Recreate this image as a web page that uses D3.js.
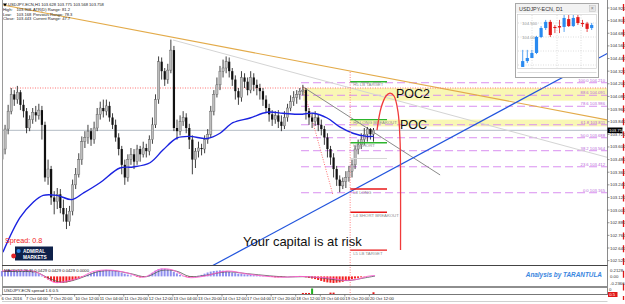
<!DOCTYPE html>
<html><head><meta charset="utf-8">
<script src="https://cdn.jsdelivr.net/npm/d3@7"></script>
<style>body{margin:0;background:#fff;overflow:hidden}svg{display:block;font-family:"Liberation Sans",Arial,sans-serif}</style>
</head><body><svg id="c" width="625" height="304"></svg>
<script>
// ---------- data ----------
const firstOpen = 103.48;
const closes = [103.58,103.77,103.94,104.10,104.05,104.12,104.00,103.94,103.78,103.86,
103.93,103.90,103.95,103.81,103.31,103.39,103.12,103.08,103.15,103.02,
102.96,102.89,102.99,103.24,103.34,103.48,103.65,103.69,103.75,103.67,
103.78,103.91,103.97,103.94,103.99,103.88,103.81,103.69,103.58,103.43,
103.31,103.48,103.53,103.46,103.58,103.53,103.59,103.56,103.67,103.81,
104.05,104.41,104.32,104.24,104.33,104.52,103.78,103.75,103.84,103.88,
103.78,103.67,103.48,103.56,103.59,103.58,103.67,103.72,103.94,104.10,
104.19,104.32,104.35,104.41,104.32,104.24,104.13,104.07,104.26,104.22,
104.14,104.26,104.19,104.16,104.13,104.05,103.97,103.91,103.86,103.90,
103.84,103.80,103.88,103.97,104.03,104.07,104.10,104.13,104.14,103.94,
103.88,103.84,103.88,103.81,103.77,103.69,103.58,103.50,103.39,103.29,
103.23,103.27,103.31,103.37,103.43,103.58,103.62,103.67,103.72,103.77,
103.72,103.76];
const highs = [103.62,103.81,104.00,104.16,104.14,104.18,104.14,104.05,103.97,103.90,
103.97,103.99,104.01,103.99,103.84,103.48,103.42,103.18,103.21,103.20,
103.10,103.02,103.04,103.29,103.40,103.54,103.70,103.75,103.81,103.78,
103.84,103.97,104.03,104.05,104.05,104.03,103.92,103.86,103.73,103.61,
103.48,103.53,103.59,103.58,103.62,103.61,103.65,103.63,103.71,103.88,
104.10,104.46,104.45,104.35,104.39,104.62,104.56,103.86,103.90,103.94,
103.92,103.82,103.71,103.59,103.65,103.63,103.71,103.77,103.99,104.14,
104.26,104.37,104.43,104.46,104.45,104.35,104.28,104.16,104.32,104.30,
104.26,104.32,104.30,104.24,104.20,104.16,104.09,104.01,103.95,103.94,
103.95,103.90,103.94,104.01,104.09,104.13,104.14,104.16,104.19,104.16,
103.97,103.92,103.94,103.91,103.86,103.80,103.73,103.61,103.54,103.42,
103.33,103.31,103.37,103.42,103.48,103.61,103.67,103.73,103.78,103.79,
103.78,103.78];
const lows = [103.43,103.53,103.72,103.91,103.99,104.01,103.95,103.88,103.73,103.75,
103.82,103.84,103.86,103.67,103.27,103.24,103.05,102.96,103.01,102.97,
102.89,102.82,102.85,102.95,103.20,103.31,103.43,103.59,103.63,103.61,
103.63,103.75,103.86,103.88,103.90,103.84,103.77,103.65,103.52,103.34,
103.24,103.27,103.43,103.39,103.43,103.46,103.50,103.50,103.52,103.63,
103.78,104.01,104.24,104.18,104.20,104.30,103.75,103.67,103.71,103.80,
103.73,103.58,103.34,103.40,103.50,103.52,103.54,103.63,103.69,103.90,
104.07,104.14,104.26,104.30,104.26,104.18,104.05,104.00,104.03,104.16,
104.09,104.11,104.13,104.09,104.05,103.99,103.92,103.84,103.80,103.82,
103.78,103.75,103.77,103.84,103.94,103.99,104.01,104.05,104.09,103.86,
103.81,103.78,103.80,103.75,103.71,103.62,103.50,103.43,103.31,103.23,
103.17,103.20,103.21,103.27,103.31,103.39,103.53,103.58,103.62,103.65,
103.67,103.65];
const maIndex = [0.3,5.9,10,13.4,17.9,22.8,26.4,31.9,38.4,42.7,48.2,52.4,57,61.2,66.8,71,75.2,80.8,86.3,91.5,97,101.3,105.9,110,114.3,118.9,121];
const maValues = [102.60,102.93,103.07,103.14,103.14,103.10,103.16,103.26,103.40,103.41,103.45,103.57,103.685,103.70,103.68,103.73,103.83,103.875,103.93,103.92,103.91,103.92,103.875,103.79,103.73,103.70,103.70];
const priceTicks = [104.92,104.80,104.68,104.56,104.44,104.32,104.20,104.08,103.96,103.84,103.72,103.60,103.48,103.36,103.24,103.12,103.00,102.88,102.76,102.64,102.52];
const timeLabels = ["6 Oct 2016","7 Oct 04:00","7 Oct 20:00","10 Oct 12:00","11 Oct 04:00","11 Oct 20:00","12 Oct 12:00","13 Oct 04:00","13 Oct 20:00","14 Oct 12:00","17 Oct 04:00","17 Oct 20:00","18 Oct 12:00","19 Oct 04:00","19 Oct 20:00","20 Oct 12:00"];
const currentPrice = 103.758;
const fibLevels = [0,23.6,38.2,50,61.8,78.6,88.6,100];
const fibLow = 103.165, fibHigh = 104.21, fibStart = 97.4;
const zoneNames = ["POC2","POC"];
const zoneFrom = [98,113.4];
const zoneHigh = [104.16,103.86];
const zoneLow = [104.04,103.795];
const pivotNames = ["H5 LB TARGET","H4 LONG BREAKOUT","H3 SHORT","","L3 LONG","L4 SHORT BREAKOUT","L5 LB TARGET"];
const pivotValues = [104.22,103.86,103.64,103.49,103.20,102.98,102.62];
const pivotColors = ["#2cb52c","#2cb52c","#2cb52c","#d8d8d8","#e81818","#e81818","#e81818"];
const pivotFrom = 113.4, pivotTo = 125.4;
const arrowIndex = [122.15,123.45,125.08,126.38,127.69,128.99,129.64,129.8,129.8];
const arrowPrice = [103.76,103.97,104.084,104.112,104.084,103.932,103.666,103.381,102.621];
// trend lines: [i1,p1,i2,p2]
const orangeLine = [0.33,104.948,110,104.34];
const lightGreyLine = [55.7,104.616,110,104.188];
const darkGreyLine = [98.05,104.17,142.7,103.334];
const blueLine = [72,102.526,198,104.502];
const redDiag = [98.05,104.17,107.8,103.144];
const redHLine = 104.16, redHFrom = 2.6;
const redVLine = 113.4;
// MACD panel
const macdHist = [18,20,22,20,19,18,17,18,17,16,
15,12,8,3,-4,-10,-15,-19,-21,-22,
-21,-20,-17,-14,-10,-6,-2,2,6,10,
14,17,19,21,22,21,20,18,15,12,
9,6,3,0,-2,-3,-2,0,5,12,
19,24,26,25,23,20,15,10,5,1,
-2,-3,-2,0,2,5,9,13,16,18,
19,20,19,17,15,13,11,9,8,7,
6,5,4,3,2,1,0,-1,-2,-3,
-3,-2,-1,0,1,1,0,-1,-2,-3,
-5,-7,-9,-12,-15,-18,-20,-21,-22,-21,
-20,-18,-15,-12,-9,-7,-5,-3,-1,0,
1,2];
const signalIndex = [0,10,13.4,17,21,25.4,29.6,35,40.7,46,51.5,55.7,60.3,65.5,73.3,79.8,86.3,91.5,97,102.6,108,111,115.6,118.9,121.5];
const signalValues = [0.18,0.18,0.03,-0.20,-0.16,-0.04,0.16,0.21,0.12,-0.03,0.24,0.21,-0.03,0,0.18,0.08,0,-0.03,0,-0.03,-0.07,-0.13,-0.10,0,0.03];
const greyIndex = [0,11,15,19,23,27,31,36,42,47,52,57,61,66,73,80,87,93,98,104,109,113,117,121.5];
const greyValues = [0.16,0.14,-0.05,-0.19,-0.14,0,0.15,0.19,0.09,-0.01,0.20,0.17,0,0.03,0.15,0.09,0.02,-0.02,-0.01,-0.05,-0.12,-0.14,-0.07,0.01];
const macdTicks = [0.2128,0,-0.2366];
const spreadIndex = [98,99,100,101,107,108,121];
const spreadValues = [0.3,0.3,0.3,1.6,0.4,0.4,0.5];
const spreadColors = ["#e81818","#e81818","#e81818","#20b020","#e81818","#e81818","#e81818"];
// D1 inset
const d1Open  = [102.93,103.14,103.25,103.43,104.00,104.32,104.54,104.36,104.39,104.36,104.64,104.39,104.71,104.50,104.48,104.32];
const d1High  = [103.54,103.54,103.54,104.04,104.39,104.61,104.61,104.43,104.61,104.86,104.86,104.79,104.79,104.61,104.54,104.50];
const d1Low   = [102.93,103.07,103.25,103.39,103.96,104.25,104.00,104.14,104.14,104.18,104.36,104.36,104.43,104.36,104.18,104.25];
const d1Close = [103.14,103.25,103.43,104.00,104.32,104.54,104.07,104.32,104.34,104.68,104.39,104.68,104.50,104.46,104.29,104.43];
const d1Ticks = [104.5,104.0];

// ---------- layout ----------
const svg = d3.select('#c');
const plotL = 3, plotR = 607, plotT = 0, plotB = 265;
const x = d3.scaleLinear().domain([0,121]).range([2,373.5]);
const y = d3.scaleLinear().domain([104.92,102.64]).range([8,248]);
const defs = svg.append('defs');
defs.append('clipPath').attr('id','main').append('rect').attr('x',plotL).attr('y',plotT).attr('width',plotR-plotL).attr('height',plotB-plotT);
svg.append('rect').attr('width',625).attr('height',304).attr('fill','#fff');
const g = svg.append('g').attr('clip-path','url(#main)');
const xEdge = x.invert(plotR);

// zones
g.selectAll('rect.zone').data(zoneNames).join('rect')
  .attr('x',(d,i)=>x(zoneFrom[i])).attr('y',(d,i)=>y(zoneHigh[i]))
  .attr('width',(d,i)=>plotR-x(zoneFrom[i])).attr('height',(d,i)=>y(zoneLow[i])-y(zoneHigh[i]))
  .attr('fill','#f9f7b4');

// fib levels
const fibPrice = l => fibLow + (fibHigh-fibLow)*l/100;
g.selectAll('line.fib').data(fibLevels).join('line')
  .attr('x1',x(fibStart)).attr('x2',plotR).attr('y1',d=>y(fibPrice(d))).attr('y2',d=>y(fibPrice(d)))
  .attr('stroke','#d98ff0').attr('stroke-width',1).attr('stroke-dasharray','8,4');
g.selectAll('text.fib').data(fibLevels).join('text')
  .attr('x',plotR-2).attr('y',d=>y(fibPrice(d))-1.2).attr('text-anchor','end')
  .attr('font-size',4.2).attr('fill','#b868d8')
  .text(d=>d.toFixed(1)+'  '+fibPrice(d).toFixed(3));

// current price line
g.append('line').attr('x1',plotL).attr('x2',plotR).attr('y1',y(currentPrice)).attr('y2',y(currentPrice)).attr('stroke','#b4bcc4').attr('stroke-width',1);

// trend line helper
function seg(t, extendRight, extendLeft){
  const [i1,p1,i2,p2]=t; const s=(p2-p1)/(i2-i1);
  const a = extendLeft? x.invert(plotL)-5 : i1;
  const b = extendRight? xEdge+2 : i2;
  return [[a,p1+s*(a-i1)],[b,p1+s*(b-i1)]];
}
const lineGen = d3.line().x(d=>x(d[0])).y(d=>y(d[1]));
g.append('path').attr('d',lineGen(seg(lightGreyLine,true,false))).attr('stroke','#d4d4d4').attr('fill','none').attr('stroke-width',1);
g.append('path').attr('d',lineGen(seg(orangeLine,true,false))).attr('stroke','#e3ab4a').attr('fill','none').attr('stroke-width',1.1);
g.append('path').attr('d',lineGen(seg(darkGreyLine,false,false))).attr('stroke','#8a8a8a').attr('fill','none').attr('stroke-width',1);
g.append('path').attr('d',lineGen(seg(blueLine,true,true))).attr('stroke','#2255dd').attr('fill','none').attr('stroke-width',1.2);
// red dotted objects
g.append('line').attr('x1',x(redHFrom)).attr('x2',plotR).attr('y1',y(redHLine)).attr('y2',y(redHLine)).attr('stroke','#ff7070').attr('stroke-dasharray','1,1.5');
g.append('path').attr('d',lineGen(seg(redDiag,false,false))).attr('stroke','#ff7070').attr('fill','none').attr('stroke-dasharray','1,1.5');
svg.append('line').attr('x1',x(redVLine)).attr('x2',x(redVLine)).attr('y1',72).attr('y2',296).attr('stroke','#ff8080').attr('stroke-dasharray','1,1.5');

// candles
const opens = closes.map((c,i)=> i? closes[i-1] : firstOpen);
const cg = g.append('g');
cg.selectAll('line.w').data(closes).join('line')
  .attr('x1',(d,i)=>x(i)).attr('x2',(d,i)=>x(i)).attr('y1',(d,i)=>y(highs[i])).attr('y2',(d,i)=>y(lows[i]))
  .attr('stroke','#2a2a2a').attr('stroke-width',0.9);
cg.selectAll('rect.b').data(closes).join('rect')
  .attr('x',(d,i)=>x(i)-1.1).attr('width',2.2)
  .attr('y',(d,i)=>y(Math.max(d,opens[i]))).attr('height',(d,i)=>Math.max(0.8,Math.abs(y(d)-y(opens[i]))))
  .attr('fill',(d,i)=> d>=opens[i]?'#bdbdbd':'#111').attr('stroke',(d,i)=> d>=opens[i]?'#555':'none').attr('stroke-width',0.4);

// moving average
g.append('path').datum(maIndex.map((d,i)=>[d,maValues[i]]))
  .attr('d',d3.line().x(d=>x(d[0])).y(d=>y(d[1])).curve(d3.curveCatmullRom))
  .attr('fill','none').attr('stroke','#1a22e0').attr('stroke-width',1.4);

// pivot lines
g.selectAll('line.piv').data(pivotValues).join('line')
  .attr('x1',x(pivotFrom)).attr('x2',x(pivotTo)).attr('y1',d=>y(d)).attr('y2',d=>y(d))
  .attr('stroke',(d,i)=>pivotColors[i]).attr('stroke-width',(d,i)=>i===3?1:1.4);
g.selectAll('text.piv').data(pivotNames).join('text')
  .attr('x',x(pivotFrom)+3).attr('y',(d,i)=>y(pivotValues[i])+4.6)
  .attr('font-size',4.3).attr('fill','#8c8c8c').text(d=>d);

// red arc
g.append('path').datum(arrowIndex.map((d,i)=>[d,arrowPrice[i]]))
  .attr('d',d3.line().x(d=>x(d[0])).y(d=>y(d[1])).curve(d3.curveCatmullRom))
  .attr('fill','none').attr('stroke','#f03a3a').attr('stroke-width',1.3);

// texts
svg.append('text').attr('x',396).attr('y',98).attr('font-size',12.5).attr('fill','#111').text('POC2');
svg.append('text').attr('x',400).attr('y',128.5).attr('font-size',12.5).attr('fill','#111').text('POC');
svg.append('text').attr('x',243).attr('y',246).attr('font-size',13).attr('fill','#111').text('Your capital is at risk');
svg.append('text').attr('x',5).attr('y',243).attr('font-size',7.2).attr('fill','#f01c1c').text('Spread:  0.8');
// logo
const lg = svg.append('g');
lg.append('rect').attr('x',15).attr('y',246.5).attr('width',38).attr('height',14).attr('fill','#0e214a');
lg.append('circle').attr('cx',18.6).attr('cy',251).attr('r',2.1).attr('fill','#2f86e6');
lg.append('circle').attr('cx',13.6).attr('cy',256).attr('r',2.4).attr('fill','#e3262a');
lg.append('text').attr('x',23).attr('y',252.8).attr('font-size',4.8).attr('font-weight','bold').attr('fill','#fff').text('ADMIRAL');
lg.append('text').attr('x',23).attr('y',258.6).attr('font-size',4.8).attr('font-weight','bold').attr('fill','#fff').text('MARKETS');

// info text
const info = svg.append('g').attr('font-size',4.1).attr('fill','#222');
info.append('path').attr('d','M3,3.5 L7,3.5 L5,6.5 Z').attr('fill','#000');
info.append('text').attr('x',8).attr('y',6.3).text('USDJPY-ECN,H1  103.628 103.775 103.568 103.758');
const infoRows = [["High:","103.908","ATR(D) Range: 81.2"],["Low:","103.168","Previous Range: 78.3"],["Close:","103.443","Current Range: 47.7"]];
infoRows.forEach((r,k)=>{
  info.append('text').attr('x',3).attr('y',11+k*4.6).text(r[0]);
  info.append('text').attr('x',16.5).attr('y',11+k*4.6).text(r[1]);
  info.append('text').attr('x',33).attr('y',11+k*4.6).text(r[2]);
});

// ---------- D1 inset ----------
const ins = svg.append('g');
ins.append('rect').attr('x',515.5).attr('y',3.5).attr('width',83).attr('height',74).attr('fill','#fff').attr('stroke','#a8a8a8');
ins.append('rect').attr('x',516).attr('y',4).attr('width',82).attr('height',9).attr('fill','#f2f2f2');
ins.append('text').attr('x',519).attr('y',10.6).attr('font-size',5.4).attr('fill','#333').text('USDJPY-ECN, D1');
ins.append('rect').attr('x',589.5).attr('y',5.5).attr('width',6).attr('height',6).attr('fill','#e6e6e6').attr('stroke','#bbb').attr('stroke-width',0.5);
ins.append('text').attr('x',590.8).attr('y',10.3).attr('font-size',5).attr('fill','#777').text('×');
ins.append('rect').attr('x',517.5).attr('y',14.5).attr('width',79).attr('height',54).attr('fill','#fff').attr('stroke','#c8c8c8').attr('stroke-width',0.6);
ins.append('line').attr('x1',517.5).attr('x2',596.5).attr('y1',72.5).attr('y2',72.5).attr('stroke','#c8c8c8').attr('stroke-width',0.6);
const xd = d3.scaleLinear().domain([0,15]).range([522.7,591.7]);
const yd = d3.scaleLinear().domain([104.5,104.0]).range([23,37]);
defs.append('clipPath').attr('id','ins').append('rect').attr('x',518).attr('y',15).attr('width',78).attr('height',53);
const ig = ins.append('g').attr('clip-path','url(#ins)');
[23,37,51,65].forEach(v=>ig.append('line').attr('x1',518).attr('x2',596).attr('y1',v).attr('y2',v).attr('stroke','#bbb').attr('stroke-width',0.5).attr('stroke-dasharray','1,1.5'));
[532,557,581].forEach(v=>ig.append('line').attr('x1',v).attr('x2',v).attr('y1',15).attr('y2',68).attr('stroke','#bbb').attr('stroke-width',0.5).attr('stroke-dasharray','1,1.5'));
ig.selectAll('text.d1t').data(d1Ticks).join('text').attr('x',522).attr('y',d=>yd(d)+1.5).attr('font-size',4.2).attr('fill','#999').text(d=>d.toFixed(3));
const d1col = i => d1Close[i]>=d1Open[i] ? '#2a8af0' : '#e01818';
ig.selectAll('line.d1w').data(d1Open).join('line')
  .attr('x1',(d,i)=>xd(i)).attr('x2',(d,i)=>xd(i)).attr('y1',(d,i)=>yd(d1High[i])).attr('y2',(d,i)=>yd(d1Low[i]))
  .attr('stroke',(d,i)=>d1col(i)).attr('stroke-width',0.8);
ig.selectAll('rect.d1b').data(d1Open).join('rect')
  .attr('x',(d,i)=>xd(i)-1.6).attr('width',3.2)
  .attr('y',(d,i)=>yd(Math.max(d,d1Close[i]))).attr('height',(d,i)=>Math.max(1,Math.abs(yd(d)-yd(d1Close[i]))))
  .attr('fill',(d,i)=>d1col(i));

// ---------- right axis ----------
svg.append('rect').attr('x',607).attr('y',0).attr('width',18).attr('height',304).attr('fill','#fff');
svg.append('line').attr('x1',607.5).attr('x2',607.5).attr('y1',0).attr('y2',295).attr('stroke','#8a8a8a');
svg.append('line').attr('x1',623.5).attr('x2',623.5).attr('y1',4).attr('y2',300).attr('stroke','#e01818').attr('stroke-width',1.3).attr('stroke-dasharray','7,5.7');
const ax = svg.append('g');
ax.selectAll('line').data(priceTicks).join('line').attr('x1',607.5).attr('x2',609.5).attr('y1',d=>y(d)).attr('y2',d=>y(d)).attr('stroke','#555').attr('stroke-width',0.6);
ax.selectAll('text').data(priceTicks).join('text').attr('x',610).attr('y',d=>y(d)+1.5).attr('font-size',4.3).attr('fill','#333').text(d=>d.toFixed(3));
svg.append('rect').attr('x',607.5).attr('y',y(currentPrice)-2.8).attr('width',15).attr('height',5.6).attr('fill','#000');
svg.append('text').attr('x',609).attr('y',y(currentPrice)+1.6).attr('font-size',4.3).attr('fill','#fff').text(currentPrice.toFixed(3));

// ---------- frames ----------
svg.append('line').attr('x1',2.5).attr('x2',2.5).attr('y1',0).attr('y2',295).attr('stroke','#9a9a9a');
svg.append('line').attr('x1',2).attr('x2',607.5).attr('y1',265.5).attr('y2',265.5).attr('stroke','#444');
svg.append('rect').attr('x',2).attr('y',286).attr('width',605.5).attr('height',2).attr('fill','#8e8e8e');
svg.append('line').attr('x1',2).attr('x2',607.5).attr('y1',294.5).attr('y2',294.5).attr('stroke','#777');

// ---------- MACD panel ----------
const ym = d3.scaleLinear().domain([0.2128,-0.2366]).range([270,283.5]);
const mg = svg.append('g');
mg.selectAll('rect').data(macdHist).join('rect')
  .attr('x',(d,i)=>x(i)-1.1).attr('width',2)
  .attr('y',d=>Math.min(ym(0),ym(d/100))).attr('height',d=>Math.abs(ym(d/100)-ym(0)))
  .attr('fill',d=> d>=0?'#8f8fee':'#f22020');
mg.append('path').datum(greyIndex.map((d,i)=>[d,greyValues[i]]))
  .attr('d',d3.line().x(d=>x(d[0])).y(d=>ym(d[1])).curve(d3.curveCatmullRom)).attr('fill','none').attr('stroke','#555').attr('stroke-width',0.8);
mg.append('path').datum(signalIndex.map((d,i)=>[d,signalValues[i]]))
  .attr('d',d3.line().x(d=>x(d[0])).y(d=>ym(d[1])).curve(d3.curveCatmullRom)).attr('fill','none').attr('stroke','#ff5fcf').attr('stroke-width',0.9);
mg.append('text').attr('x',4).attr('y',271.5).attr('font-size',4.2).attr('fill','#222').text('MACD(12,26,9) 0.0429 0.0429 0.0429 0.0000');
mg.selectAll('text.mt').data(macdTicks).join('text').attr('class','mt').attr('x',610).attr('y',d=>ym(d)+1.5).attr('font-size',4.3).attr('fill','#333').text(d=> d===0?'0.00':d.toFixed(4));
mg.append('text').attr('x',602).attr('y',276.5).attr('text-anchor','end').attr('font-size',6.4).attr('font-weight','bold').attr('font-style','italic').attr('fill','#3a86e0').text('Analysis by TARANTULA');

// ---------- spread panel ----------
const ys = d3.scaleLinear().domain([0,1.6]).range([294,288.5]);
svg.append('text').attr('x',4).attr('y',291.8).attr('font-size',4.2).attr('fill','#222').text('USDJPY-ECN spread 1.6 0.5');
svg.selectAll('rect.sp').data(spreadValues).join('rect')
  .attr('x',(d,i)=>x(spreadIndex[i])-1).attr('width',2).attr('y',d=>ys(d)).attr('height',d=>ys(0)-ys(d))
  .attr('fill',(d,i)=>spreadColors[i]);
svg.append('text').attr('x',609).attr('y',290.5).attr('font-size',4.3).attr('fill','#333').text('0');
svg.append('rect').attr('x',608).attr('y',292).attr('width',9.5).attr('height',5).attr('fill','#e01818');
svg.append('text').attr('x',609.2).attr('y',296).attr('font-size',4.3).attr('fill','#fff').text('0.5');

// ---------- time axis ----------
const ta = svg.append('g');
ta.selectAll('line').data(timeLabels).join('line')
  .attr('x1',(d,k)=>x(8*k-0.5)+0.5).attr('x2',(d,k)=>x(8*k-0.5)+0.5).attr('y1',294.5).attr('y2',296.5).attr('stroke','#555').attr('stroke-width',0.6);
ta.selectAll('text').data(timeLabels).join('text')
  .attr('x',(d,k)=>Math.max(1.5,x(8*k-0.5)+1)).attr('y',299.6).attr('font-size',4.2).attr('fill','#222').text(d=>d);
svg.append('line').attr('x1',2).attr('x2',607.5).attr('y1',301.5).attr('y2',301.5).attr('stroke','#d0d0d0');
</script></body></html>
